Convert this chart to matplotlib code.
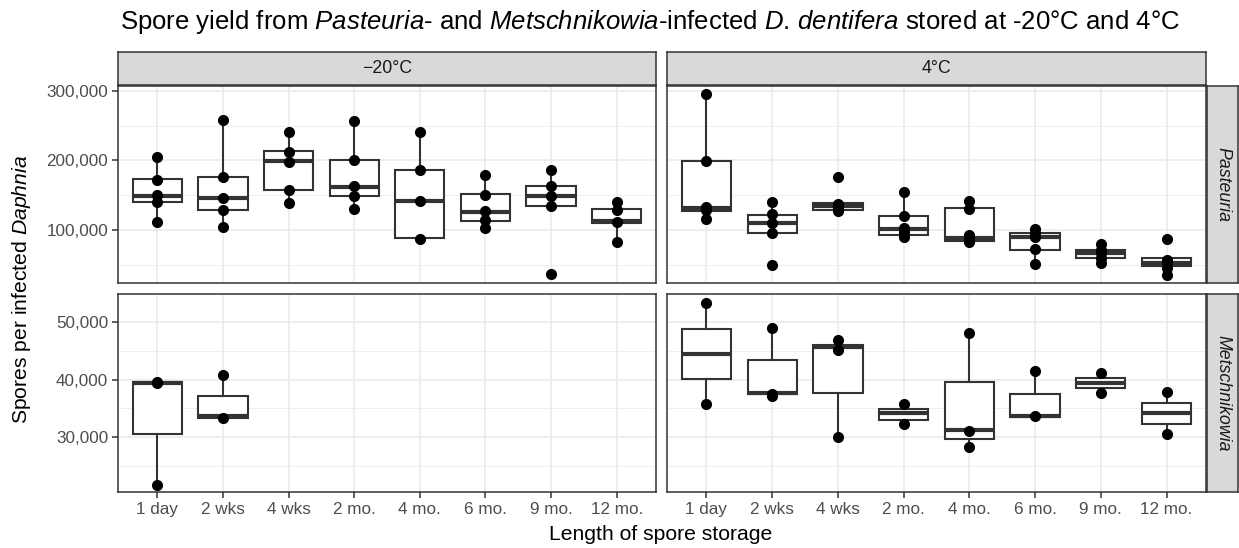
import matplotlib
matplotlib.use("Agg")
import matplotlib.pyplot as plt
from matplotlib.ticker import FuncFormatter, FixedLocator

plt.rcParams['font.family'] = ['Liberation Sans', 'DejaVu Sans']
plt.rcParams['mathtext.fontset'] = 'custom'
plt.rcParams['mathtext.rm'] = 'Liberation Sans'
plt.rcParams['mathtext.it'] = 'Liberation Sans:italic'

# ---------------- data ----------------
categories = ["1 day", "2 wks", "4 wks", "2 mo.", "4 mo.", "6 mo.", "9 mo.", "12 mo."]
temps = ["\u221220°C", "4°C"]
parasites = ["Pasteuria", "Metschnikowia"]

# Pasteuria, -20 C
p20_lo = [111000, 104300, 138800, 129700, 88000, 102400, 135000, 83200]
p20_q1 = [139800, 128300, 157500, 148900, 88000, 113400, 135000, 110500]
p20_med = [149300, 146500, 199100, 162300, 142100, 125900, 148900, 113400]
p20_q3 = [172800, 176100, 213000, 200600, 185700, 151700, 163700, 130200]
p20_hi = [204900, 258500, 240300, 256600, 240300, 179000, 185700, 139800]
p20_pts = [[204900, 171800, 150300, 140700, 111000],
           [258500, 175700, 146500, 128300, 104300],
           [240300, 212500, 198200, 158000, 138800],
           [256600, 200600, 163200, 148900, 129700],
           [240300, 185700, 142100, 87100],
           [179000, 150300, 127800, 114400, 102400],
           [185700, 163200, 148900, 135000, 37300],
           [139800, 128700, 111000, 83200]]

# Pasteuria, 4 C
p4_lo = [115300, 95200, 127800, 90400, 84700, 50700, 52100, 44900]
p4_q1 = [127800, 95200, 128700, 92800, 84700, 71300, 60200, 48800]
p4_med = [131100, 110500, 135000, 101400, 88000, 90400, 66500, 52100]
p4_q3 = [199600, 121600, 138300, 120100, 132100, 95200, 71300, 59300]
p4_hi = [294900, 139800, 138300, 154100, 142100, 101400, 79900, 59300]
p4_pts = [[294900, 199600, 132600, 129000, 115300],
          [139800, 122500, 110500, 96200, 49700],
          [175700, 136900, 134500, 131100, 127800],
          [154100, 120100, 102400, 97600, 90400],
          [142100, 130200, 92800, 88000, 83200],
          [101400, 95200, 90400, 72200, 50700],
          [79900, 71300, 66500, 59300, 52100],
          [86600, 56900, 52100, 44900, 35300]]

# Metschnikowia, -20 C (only first two storage lengths)
m20_lo = [21700, 33300, None, None, None, None, None, None]
m20_q1 = [30500, 33300, None, None, None, None, None, None]
m20_med = [39400, 33600, None, None, None, None, None, None]
m20_q3 = [39500, 37200, None, None, None, None, None, None]
m20_hi = [39600, 40800, None, None, None, None, None, None]
m20_pts = [[39600, 39400, 21700], [40800, 33300], [], [], [], [], [], []]

# Metschnikowia, 4 C
m4_lo = [35700, 37400, 29900, 32200, 28300, 33500, 37700, 30500]
m4_q1 = [40100, 37400, 37600, 33000, 29600, 33500, 38600, 32300]
m4_med = [44500, 37700, 45600, 34100, 31200, 33700, 39400, 34200]
m4_q3 = [48800, 43400, 46100, 34900, 39600, 37400, 40300, 35900]
m4_hi = [53300, 49000, 46900, 35800, 48100, 41500, 41200, 37800]
m4_pts = [[53300, 35700], [49000, 37550, 37100], [46900, 45200, 29900],
          [35800, 32200], [48100, 31000, 28300], [41500, 33600],
          [41200, 37700], [37800, 30500]]

top_ylim = (23800, 307000)
bot_ylim = (20400, 54900)
top_major = [100000, 200000, 300000]
top_minor = [50000, 150000, 250000]
bot_major = [30000, 40000, 50000]
bot_minor = [25000, 35000, 45000]

# ---------------- figure ----------------
W, H = 1239, 548
fig = plt.figure(figsize=(W / 100, H / 100), dpi=100)
fig.patch.set_facecolor("white")


def px_axes(x0, y0, x1, y1):
    return fig.add_axes([x0 / W, 1 - y1 / H, (x1 - x0) / W, (y1 - y0) / H])


EDGE = "#333333"
GRID = "#EBEBEB"
STRIP = "#D9D9D9"


def draw_panel(ax, lo, q1, med, q3, hi, pts, ylim, major, minor, show_x, show_y):
    ax.set_xlim(0.4, len(categories) + 0.6)
    ax.set_ylim(*ylim)
    ax.set_facecolor("white")
    ax.xaxis.set_major_locator(FixedLocator(range(1, len(categories) + 1)))
    ax.yaxis.set_major_locator(FixedLocator(major))
    ax.yaxis.set_minor_locator(FixedLocator(minor))
    ax.grid(True, which="major", color=GRID, lw=1.2, zorder=0)
    ax.grid(True, which="minor", axis="y", color=GRID, lw=0.6, zorder=0)
    ax.set_axisbelow(True)
    for s in ax.spines.values():
        s.set_color(EDGE)
        s.set_linewidth(1.1)
    stats, pos = [], []
    for i in range(len(categories)):
        if med[i] is None:
            continue
        stats.append(dict(med=med[i], q1=q1[i], q3=q3[i], whislo=lo[i],
                          whishi=hi[i], fliers=[]))
        pos.append(i + 1)
    ax.bxp(stats, positions=pos, widths=0.75, patch_artist=True,
           showfliers=False, showcaps=False, manage_ticks=False,
           boxprops=dict(facecolor="white", edgecolor=EDGE, linewidth=1.5),
           whiskerprops=dict(color=EDGE, linewidth=1.5),
           medianprops=dict(color=EDGE, linewidth=3.0, solid_capstyle="butt"),
           zorder=2)
    for i, vals in enumerate(pts):
        if vals:
            ax.plot([i + 1] * len(vals), vals, "o", color="black", ms=7,
                    mec="black", zorder=3)
    ax.tick_params(axis="both", which="major", length=4, width=1.1,
                   color=EDGE, labelcolor="#4D4D4D", labelsize=12.3, pad=3)
    ax.tick_params(axis="y", which="minor", length=0)
    ax.set_xticklabels(categories)
    ax.yaxis.set_major_formatter(FuncFormatter(lambda v, p: f"{int(v):,}"))
    if not show_x:
        ax.tick_params(axis="x", bottom=False, labelbottom=False)
    if not show_y:
        ax.tick_params(axis="y", left=False, labelleft=False)


def strip(x0, y0, x1, y1, text, rotation=0, italic=False):
    sa = px_axes(x0, y0, x1, y1)
    sa.set_facecolor(STRIP)
    sa.set_xticks([])
    sa.set_yticks([])
    for s in sa.spines.values():
        s.set_color(EDGE)
        s.set_linewidth(1.1)
    sa.text(0.5, 0.5, text, transform=sa.transAxes, ha="center", va="center",
            rotation=rotation, fontsize=12.8, color="#1A1A1A",
            style="italic" if italic else "normal")


cols = [(118, 656), (667, 1206)]
rows = [(86, 283), (294, 492)]

panels = [
    (0, 0, p20_lo, p20_q1, p20_med, p20_q3, p20_hi, p20_pts),
    (0, 1, p4_lo, p4_q1, p4_med, p4_q3, p4_hi, p4_pts),
    (1, 0, m20_lo, m20_q1, m20_med, m20_q3, m20_hi, m20_pts),
    (1, 1, m4_lo, m4_q1, m4_med, m4_q3, m4_hi, m4_pts),
]
for r, c, lo, q1, med, q3, hi, pts in panels:
    ax = px_axes(cols[c][0], rows[r][0], cols[c][1], rows[r][1])
    if r == 0:
        draw_panel(ax, lo, q1, med, q3, hi, pts, top_ylim, top_major, top_minor,
                   show_x=False, show_y=(c == 0))
    else:
        draw_panel(ax, lo, q1, med, q3, hi, pts, bot_ylim, bot_major, bot_minor,
                   show_x=True, show_y=(c == 0))

for c, t in enumerate(temps):
    strip(cols[c][0], 52, cols[c][1], 85, t)
for r, p in enumerate(parasites):
    strip(1207, rows[r][0], 1238, rows[r][1], p, rotation=-90, italic=True)

fig.text(650 / W, 1 - 22 / H,
         "Spore yield from $\\it{Pasteuria}$- and $\\it{Metschnikowia}$-infected "
         "$\\it{D.\\,dentifera}$ stored at -20°C and 4°C",
         ha="center", va="center", fontsize=18.5, color="black")
fig.text(661 / W, 1 - 534 / H, "Length of spore storage", ha="center",
         va="center", fontsize=15.2, color="black")
fig.text(22 / W, 1 - 289 / H, "Spores per infected $\\it{Daphnia}$",
         ha="center", va="center", rotation=90, fontsize=15.2, color="black")

fig.savefig("out.png", dpi=100, facecolor="white")
